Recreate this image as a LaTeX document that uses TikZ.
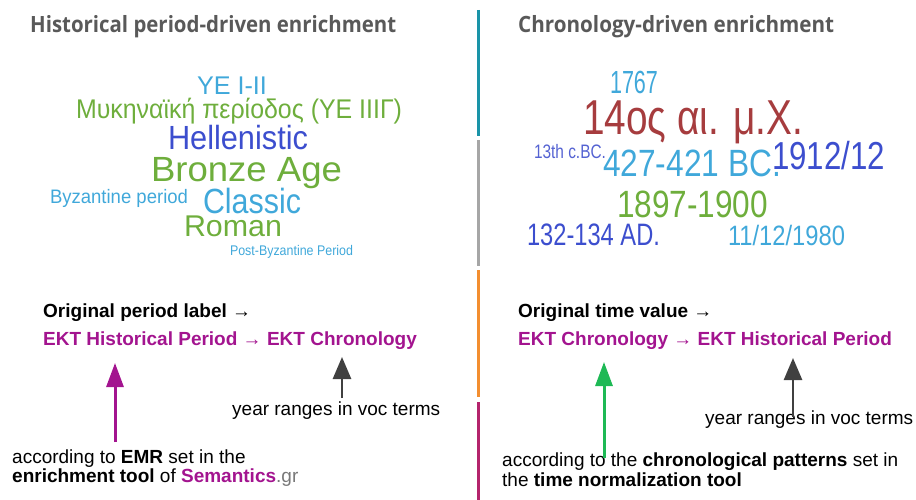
\documentclass[tikz,border=0pt]{standalone}
\usepackage{fontspec}
\usepackage{graphicx}
\setmainfont{Liberation Sans}
\newfontfamily\headfont{Open Sans}
\usetikzlibrary{arrows.meta}

\definecolor{headgray}{RGB}{89,89,89}
\definecolor{cloudlb}{RGB}{64,168,218}
\definecolor{cloudgr}{RGB}{110,174,60}
\definecolor{cloudbl}{RGB}{60,78,206}
\definecolor{cloudbl2}{RGB}{84,98,210}
\definecolor{cloudrd}{RGB}{166,60,62}
\definecolor{ektmag}{RGB}{163,20,143}
\definecolor{grgray}{RGB}{120,120,120}
\definecolor{arrgray}{RGB}{64,64,64}
\definecolor{arrgreen}{RGB}{30,185,85}
\definecolor{barteal}{RGB}{26,148,168}
\definecolor{bargray}{RGB}{166,166,166}
\definecolor{barorange}{RGB}{243,142,48}
\definecolor{barmag}{RGB}{180,36,108}

% a word set to a given width: target width (pt), font size (pt), text
\newcommand\cloudword[3]{\resizebox{#1pt}{\height}{\fontsize{#2}{#2}\selectfont #3}}

\tikzset{
  headline/.style={anchor=base west, inner sep=0pt, text=headgray,
    font=\headfont\bfseries},
  wordnode/.style={anchor=base west, inner sep=0pt, outer sep=0pt},
  txt/.style={anchor=base west, inner sep=0pt, font=\fontsize{19}{20}\selectfont},
  divider/.style={line width=3pt},
  uparrow/.style={line width=3pt, -{Triangle[width=17pt,length=24pt]}},
  grayarrow/.style={line width=2.6pt, arrgray, -{Triangle[width=18pt,length=22pt]}},
}

\begin{document}
\begin{tikzpicture}[x=1pt,y=-1pt]
\useasboundingbox (0,0) rectangle (916,500);

% column divider
\draw[divider, barteal]   (478,10)  -- (478,136);
\draw[divider, bargray]   (478,140) -- (478,266);
\draw[divider, barorange] (478,270) -- (478,397);
\draw[divider, barmag]    (478,402) -- (478,500);

% headings
\node[headline] (lefthead)  at (30,33)  {\cloudword{366}{22.4}{Historical period-driven enrichment}};
\node[headline] (righthead) at (518,33) {\cloudword{316}{22.4}{Chronology-driven enrichment}};

% period word cloud
\node[wordnode, text=cloudlb] (wYE)    at (197,95)  {\cloudword{70}{25.6}{ΥΕ Ι-ΙΙ}};
\node[wordnode, text=cloudgr] (wMyk)   at (76,119)  {\cloudword{326}{27}{Μυκηναϊκή περίοδος (ΥΕ ΙΙΙΓ)}};
\node[wordnode, text=cloudbl] (wHell)  at (168,150) {\cloudword{140}{33.5}{Hellenistic}};
\node[wordnode, text=cloudgr] (wBron)  at (151,182) {\cloudword{191}{35}{Bronze Age}};
\node[wordnode, text=cloudlb] (wByz)   at (50,204)  {\cloudword{138}{19.5}{Byzantine period}};
\node[wordnode, text=cloudlb] (wClas)  at (203,213) {\cloudword{98}{35}{Classic}};
\node[wordnode, text=cloudgr] (wRom)   at (184,236) {\cloudword{98}{30}{Roman}};
\node[wordnode, text=cloudlb] (wPost)  at (230,255) {\cloudword{123}{14}{Post-Byzantine Period}};

% chronology word cloud
\node[wordnode, text=cloudlb]  (c1767)  at (610,94)  {\cloudword{48}{32}{1767}};
\node[wordnode, text=cloudrd]  (c14)    at (583,135) {\cloudword{220}{49}{14ος αι. μ.Χ.}};
\node[wordnode, text=cloudbl2] (c13)    at (534,159) {\cloudword{72}{19.5}{13th c.BC.}};
\node[wordnode, text=cloudlb]  (c427)   at (603,177) {\cloudword{178}{38}{427-421 BC.}};
\node[wordnode, text=cloudbl]  (c1912)  at (772,170) {\cloudword{113}{39}{1912/12}};
\node[wordnode, text=cloudgr]  (c1897)  at (617,217) {\cloudword{151}{38}{1897-1900}};
\node[wordnode, text=cloudbl]  (c132)   at (527,245) {\cloudword{133}{31}{132-134 AD.}};
\node[wordnode, text=cloudlb]  (c1980)  at (728,245) {\cloudword{117}{28}{11/12/1980}};

% left explanation
\node[txt] (origL) at (43,317) {\textbf{Original period label} →};
\node[txt, text=ektmag] (ektL) at (43,345) {\textbf{EKT Historical Period} → \textbf{EKT Chronology}};
\node[txt] (yrL) at (232,415) {year ranges in voc terms};
\node[txt] (accL1) at (12,463) {according to \textbf{EMR} set in the};
\node[txt] (accL2) at (12,482) {\textbf{enrichment tool} of \textcolor{ektmag}{\textbf{Semantics}}\textcolor{grgray}{.gr}};

% right explanation
\node[txt] (origR) at (518,317) {\textbf{Original time value} →};
\node[txt, text=ektmag] (ektR) at (518,345) {\textbf{EKT Chronology} → \textbf{EKT Historical Period}};
\node[txt] (yrR) at (705,424) {year ranges in voc terms};
\node[txt] (accR1) at (502,466) {according to the \textbf{chronological patterns} set in};
\node[txt] (accR2) at (502,486) {the \textbf{time normalization tool}};

% arrow end points
\coordinate (emrTail) at (115,442);
\coordinate (emrTip)  at (115,363);
\coordinate (yrLTail) at (342,398);
\coordinate (yrLTip)  at (342,357);
\coordinate (patTail) at (604,458);
\coordinate (patTip)  at (604,362);
\coordinate (yrRTail) at (793,417);
\coordinate (yrRTip)  at (793,358);

\draw[uparrow, ektmag]   (emrTail) -- (emrTip);
\draw[grayarrow]         (yrLTail) -- (yrLTip);
\draw[uparrow, arrgreen] (patTail) -- (patTip);
\draw[grayarrow]         (yrRTail) -- (yrRTip);
\end{tikzpicture}
\end{document}
